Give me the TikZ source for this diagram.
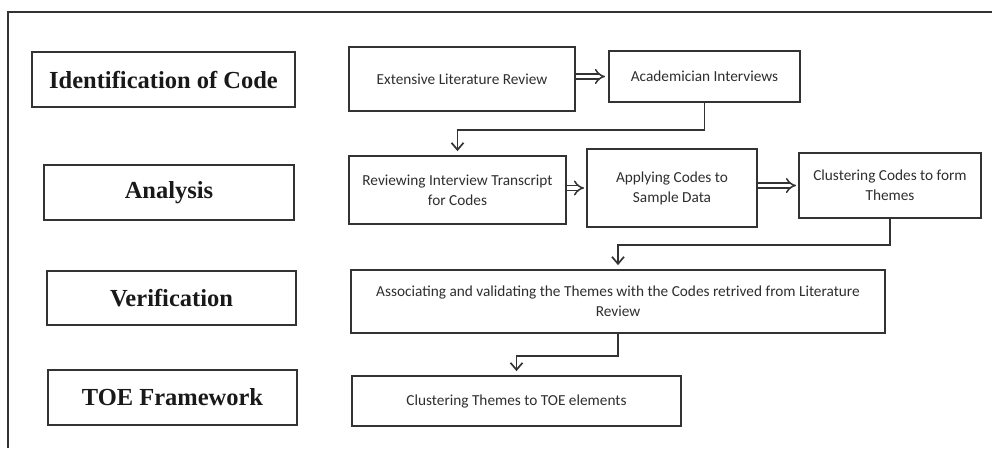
\documentclass[tikz,border=0pt]{standalone}
\usepackage{fontspec}
\setmainfont{Liberation Serif}
\newfontfamily\bodyfont{Carlito}
\usetikzlibrary{arrows.meta,calc}
\definecolor{boxline}{HTML}{333333}
\definecolor{txtgray}{HTML}{2E2E2E}
\tikzset{
  stagebox/.style={draw=boxline, line width=1.8pt, inner sep=0pt, align=center,
    font=\fontsize{24.5}{28}\selectfont\bfseries, text=black!90},
  stepbox/.style={draw=boxline, line width=1.8pt, inner sep=0pt, align=center,
    font=\bodyfont\fontsize{15.3}{20}\selectfont, text=txtgray},
  flowarr/.style={draw=boxline, line width=1.7pt, shorten >=4pt,
    -{Straight Barb[length=7pt,width=12pt,line width=1.7pt]}},
  dblarr/.style={draw=boxline, line width=1.5pt, double distance=3.6pt,
    -{Implies[length=7pt,width=14pt]}}
}
\begin{document}
\begin{tikzpicture}[x=1pt,y=-1pt]
\useasboundingbox (0,0) rectangle (992,448);
\draw[draw=boxline, line width=1.5pt] (8,448) -- (8,12) -- (992,12);

% stage labels
\node[stagebox, minimum width=263pt, minimum height=55pt] (ident) at (163.5,79.5) {Identification of Code};
\node[stagebox, minimum width=250pt, minimum height=55pt] (anal) at (169,192.5) {Analysis};
\node[stagebox, minimum width=249pt, minimum height=54pt] (verif) at (171.5,298) {Verification};
\node[stagebox, minimum width=249pt, minimum height=55pt] (toe) at (172.5,397.5) {TOE Framework};

% steps
\node[stepbox, minimum width=226pt, minimum height=64pt] (elr) at (462,79) {Extensive Literature Review};
\node[stepbox, minimum width=191pt, minimum height=51pt] (acad) at (704.5,76.5) {Academician Interviews};
\node[stepbox, minimum width=217pt, minimum height=68pt] (rev) at (457.5,190) {Reviewing Interview Transcript\\for Codes};
\node[stepbox, minimum width=170pt, minimum height=78pt] (app) at (672,188) {Applying Codes to\\Sample Data};
\node[stepbox, minimum width=182pt, minimum height=65pt] (clu) at (890,185.5) {Clustering Codes to form\\Themes};
\node[stepbox, minimum width=534pt, minimum height=63pt] (ass) at (618,301.5) {Associating and validating the Themes with the Codes retrived from Literature\\Review};
\node[stepbox, minimum width=329pt, minimum height=50pt] (cte) at (516.5,401) {Clustering Themes to TOE elements};

% double arrows
\draw[dblarr] (elr.east |- acad.west) -- ($(acad.west)+(-3,0)$);
\draw[dblarr] (rev.east |- app.west) -- ($(app.west)+(-2,0)$);
\draw[dblarr] (app.east |- clu.west) -- ($(clu.west)+(-2,0)$);

% elbow connectors
\coordinate (k1) at ($(acad.south)+(0,27)$);
\draw[flowarr] (acad.south) -- (k1) -| (rev.north);
\coordinate (k2) at ($(clu.south)+(0,26)$);
\draw[flowarr] (clu.south) -- (k2) -| (ass.north);
\coordinate (k3) at ($(ass.south)+(0,22)$);
\draw[flowarr] (ass.south) -- (k3) -| (cte.north);
\end{tikzpicture}
\end{document}
